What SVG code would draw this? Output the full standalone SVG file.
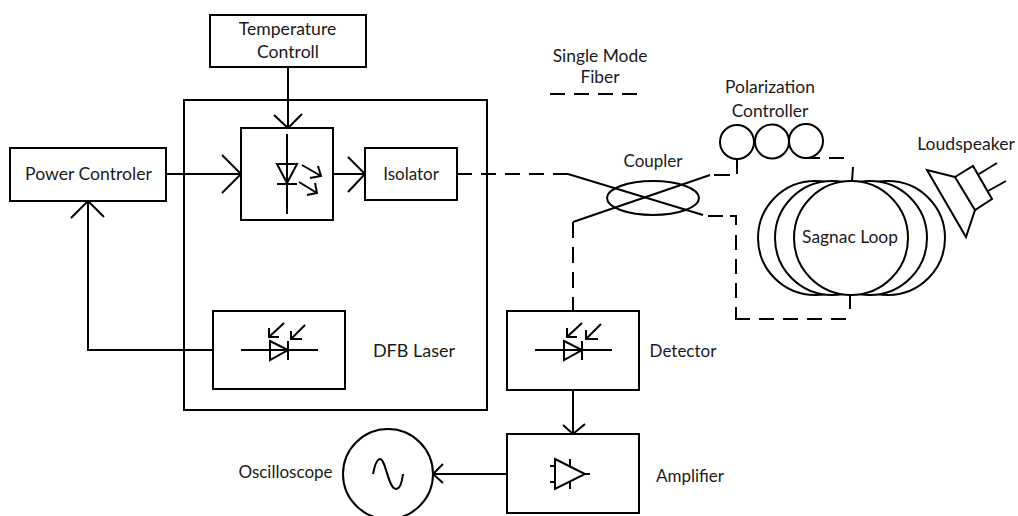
<svg xmlns="http://www.w3.org/2000/svg" width="1018" height="516" viewBox="0 0 1018 516">
<style>
text{font-family:"Lato","Open Sans","Liberation Sans",sans-serif;font-size:17px;fill:#1a1a1a;text-anchor:middle}
.b{font-size:17.6px}
.s{fill:none;stroke:#000;stroke-width:2}
.w{fill:#fff;stroke:#000;stroke-width:2}
.d{fill:none;stroke:#000;stroke-width:2;stroke-dasharray:15 9}
</style>
<rect width="1018" height="516" fill="#fff"/>
<g id="connectors">
<path class="s" d="M288 67V128M274 115L288 128L302 114"/>
<path class="s" d="M166 174H241M222 155L241 174L222 193"/>
<path class="s" d="M333 174H365M348 157L365 174L348 192"/>
<path class="s" d="M213 350H88V201M71 218L88 201L104 217"/>
<path class="s" d="M573 390V434M563 425L573 434L585 424"/>
<path class="s" d="M507 474H433M443 464L433 474L443 483"/>
<path class="d" d="M457 174H568"/>
<path class="s" d="M568 174L703 215"/>
<path class="s" d="M573 222L710 175"/>
<path class="s" d="M714 175H730"/>
<path class="s" d="M737 159V174"/>
<path class="d" style="stroke-dasharray:16 9" d="M573 222V311"/>
<path class="s" d="M708 216H723M730 216H736V225"/>
<path class="d" d="M736 235V318"/>
<path class="d" d="M735 319H847"/>
<path class="d" d="M805 158H845"/>
<path class="s" d="M852 181L853 167"/>
<path class="s" d="M850 294V309"/>
</g>
<g id="dfb-laser"><rect class="s" x="184" y="100" width="303" height="310"/><text x="414" y="357" style="font-size:18px">DFB Laser</text></g>
<g id="temperature-control"><rect class="w" x="210" y="15" width="156" height="52"/><text class="b" x="287.500" y="35">Temperature</text><text class="b" x="288" y="58">Controll</text></g>
<g id="power-controler"><rect class="w" x="10" y="148" width="156" height="53"/><text class="b" x="88.500" y="180">Power Controler</text></g>
<g id="laser-diode"><rect class="w" x="241" y="128" width="92" height="92"/>
<path class="s" d="M287 134V214M277 164H297L287 183ZM277 184H297M302 165L321 176M318 166L321 176L310 178M299 182L317 193M315 183L317 193L307 195"/></g>
<g id="isolator"><rect class="w" x="365" y="148" width="92" height="52"/><text x="411" y="180">Isolator</text></g>
<g id="monitor-photodiode"><rect class="w" x="213" y="311" width="132" height="78"/>
<path class="s" d="M241 350H318M270 341L288 350L270 360ZM288 341V360M284 323L269 337M269 328V337H279M305 325L291 339M291 331V339H302"/></g>
<g id="detector"><rect class="w" x="507" y="311" width="132" height="79"/>
<path class="s" d="M535 350H612M564 341L582 350L564 360ZM582 341V360M582 323L567 337M567 328V337H577M601 324L586 339M586 330V339H598"/>
<text x="683" y="357">Detector</text></g>
<g id="amplifier"><rect class="w" x="507" y="434" width="132" height="79"/>
<path class="s" d="M555 459L585 474L555 489ZM585 474H590M550 466H555M550 482H555M570 459V466M570 482V489"/>
<text x="690" y="482">Amplifier</text></g>
<g id="oscilloscope"><circle class="w" cx="388" cy="474" r="45"/>
<path class="s" d="M373 474C375 464 377 459 380 459C386 459 388 489 396 489C400 489 402 482 403 474"/>
<text x="285.500" y="478">Oscilloscope</text></g>
<g id="coupler"><ellipse class="s" cx="653" cy="198" rx="46" ry="17"/><text x="653" y="167">Coupler</text></g>
<g id="polarization-controller"><circle class="s" cx="737" cy="142" r="17"/><circle class="s" cx="772" cy="141.500" r="17"/><circle class="s" cx="806" cy="141" r="17"/><text x="770" y="93" style="font-size:17.400px">Polarization</text><text x="770" y="117" style="font-size:17.400px">Controller</text></g>
<g id="sagnac-loop"><circle class="w" cx="815" cy="238" r="57"/><circle class="w" cx="832" cy="238" r="57"/><circle class="w" cx="888" cy="238" r="57"/><circle class="w" cx="870" cy="238" r="57"/><circle class="w" cx="851" cy="238" r="57"/><text x="850" y="243" style="font-size:17.400px">Sagnac Loop</text></g>
<g id="loudspeaker"><path class="s" d="M955 177L927 170L966 237L975 210M955 177L973 166L992 199L975 210ZM979 174L997 163M988 191L1006 181"/><text class="b" x="966" y="150">Loudspeaker</text></g>
<g id="legend"><text x="600" y="62" style="font-size:17.400px">Single Mode</text><text x="600" y="83" style="font-size:17.400px">Fiber</text><path class="d" d="M550 94H638"/></g>
</svg>
